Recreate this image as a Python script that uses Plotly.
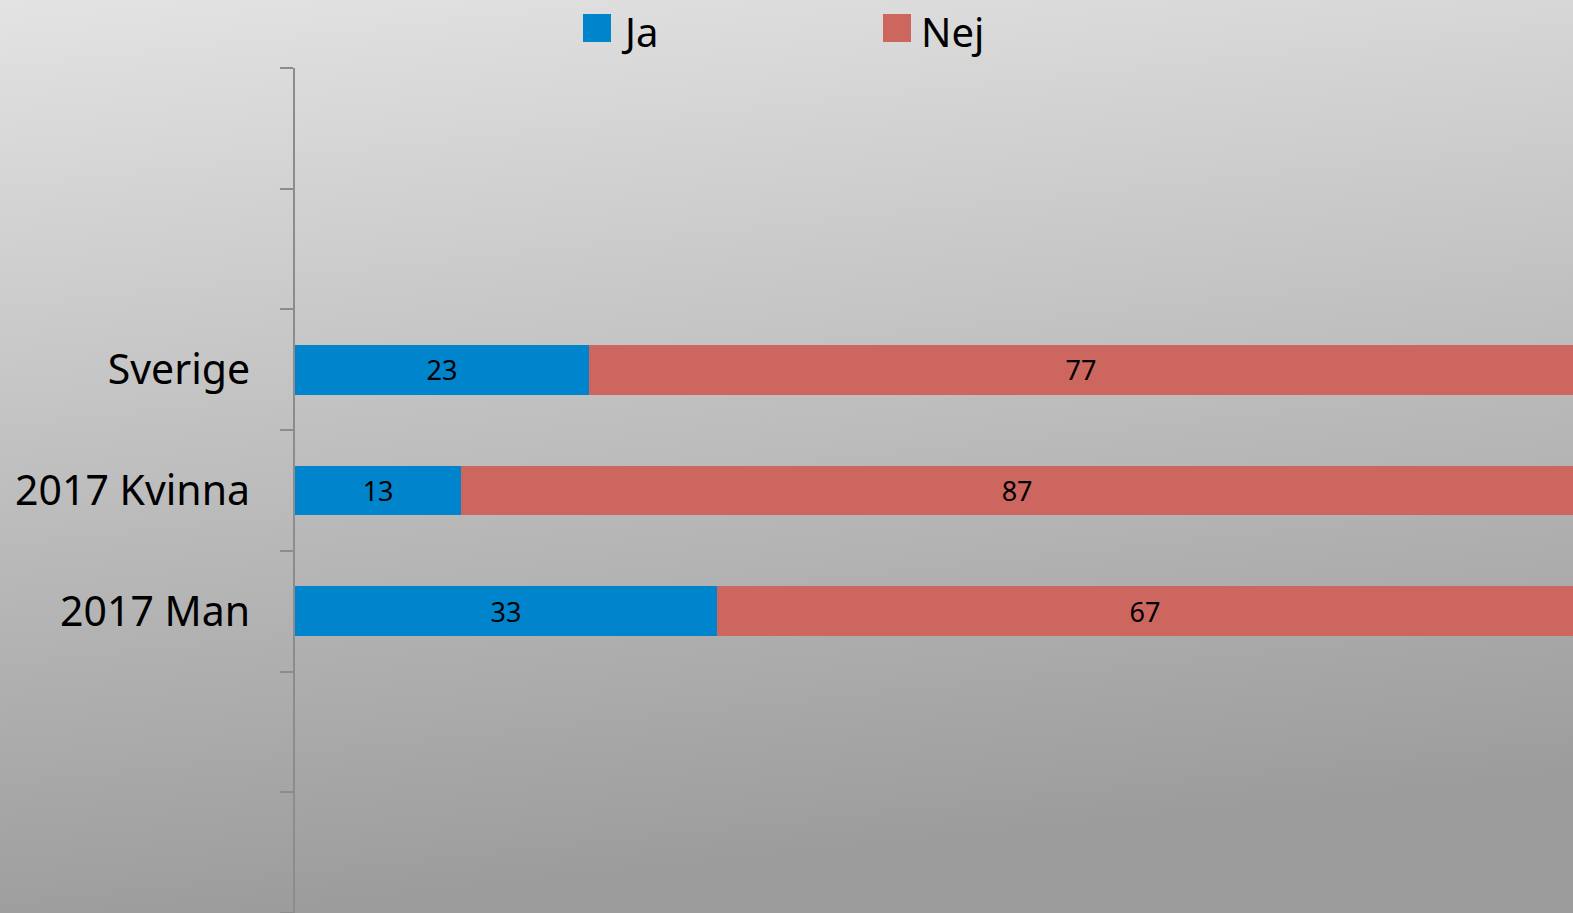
import base64
import plotly.graph_objects as go

# ---- data ----
categories = ["Sverige", "2017 Kvinna", "2017 Man"]
ja_values = [23, 13, 33]
nej_values = [77, 87, 67]
series_names = ["Ja", "Nej"]
# full category axis (blank slots above and below, as in the original)
axis_slots = [" ", "  ", "Sverige", "2017 Kvinna", "2017 Man", "   ", "    "]

BLUE = "#0084cc"
RED = "#cd665f"
FONT = "Noto Sans"

W, H = 1573, 913
L, R, T, B = 295, 0, 68, 0
pw, ph = W - L - R, H - T - B

fig = go.Figure()
for name, vals, col in [(series_names[0], ja_values, BLUE), (series_names[1], nej_values, RED)]:
    fig.add_trace(go.Bar(
        y=categories, x=vals, name=name, orientation="h",
        marker=dict(color=col, line=dict(width=0)),
        text=[str(v) for v in vals], textposition="inside",
        insidetextanchor="middle",
        textfont=dict(family=FONT, size=27, color="#000000"),
        showlegend=False, hoverinfo="x+y+name",
    ))

# gradient background as inline SVG
svg = (
    '<svg xmlns="http://www.w3.org/2000/svg" width="1573" height="913">'
    '<defs><linearGradient id="g" x1="0" y1="0" x2="0.18" y2="1">'
    '<stop offset="0" stop-color="#e3e3e3"/>'
    '<stop offset="1" stop-color="#9c9c9c"/>'
    '</linearGradient></defs>'
    '<rect width="1573" height="913" fill="url(#g)"/></svg>'
)
uri = "data:image/svg+xml;base64," + base64.b64encode(svg.encode()).decode()
fig.add_layout_image(dict(
    source=uri, xref="paper", yref="paper",
    x=-L / pw, y=1 + T / ph, sizex=W / pw, sizey=H / ph,
    xanchor="left", yanchor="top", sizing="stretch", layer="below",
))

# manual legend (large square swatches)
def px_x(x):
    return (x - L) / pw

def px_y(y):
    return (H - B - y) / ph

legend_items = [(series_names[0], BLUE, 583), (series_names[1], RED, 883)]
for name, col, x0 in legend_items:
    fig.add_shape(type="rect", xref="paper", yref="paper",
                  x0=px_x(x0), x1=px_x(x0 + 28), y0=px_y(42), y1=px_y(14),
                  fillcolor=col, line=dict(width=0))
    fig.add_annotation(xref="paper", yref="paper", x=px_x(x0 + 36), y=px_y(31),
                       text=name, showarrow=False, xanchor="left", yanchor="middle",
                       font=dict(family=FONT, size=40, color="#000000"))

fig.update_layout(
    width=W, height=H, autosize=False,
    barmode="stack", bargap=0.59,
    margin=dict(l=L, r=R, t=T, b=B, pad=0),
    paper_bgcolor="#c0c0c0", plot_bgcolor="rgba(0,0,0,0)",
    font=dict(family=FONT, color="#000000"),
    showlegend=False,
    xaxis=dict(range=[0, 100], visible=False, fixedrange=True),
    yaxis=dict(
        categoryorder="array", categoryarray=axis_slots,
        range=[len(axis_slots) - 0.5, -0.5],
        tickmode="array", tickvals=axis_slots, ticktext=axis_slots,
        tickson="boundaries", ticks="outside", ticklen=13, tickwidth=1.5,
        tickcolor="#8c8c8c", showline=True, linecolor="#8c8c8c", linewidth=1.5,
        showgrid=False, zeroline=False,
        tickfont=dict(family=FONT, size=41, color="#000000"),
        ticklabelstandoff=35,
    ),
)

fig.write_html(
    "out.html",
    config={"displayModeBar": False},
    post_script="document.body.style.margin='0';document.body.style.overflow='hidden';",
)
